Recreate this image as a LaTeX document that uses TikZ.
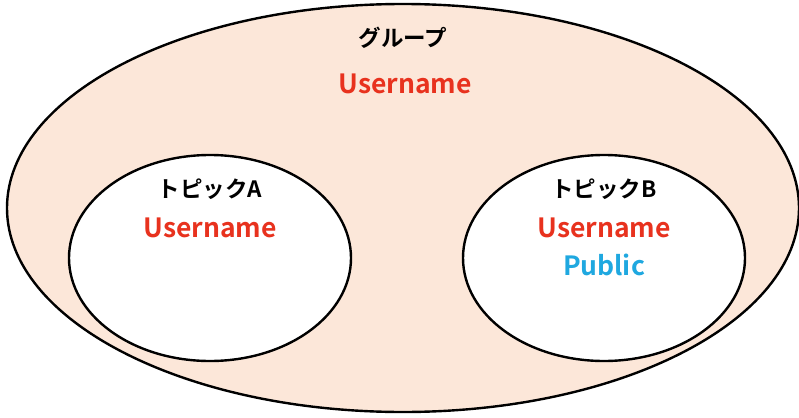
\documentclass[tikz,border=0pt]{standalone}
\usepackage{fontspec}
\setmainfont{Noto Sans CJK JP}[BoldFont={* Bold}]
\usetikzlibrary{shapes.geometric}
\definecolor{peach}{HTML}{FCE7D9}
\definecolor{uname}{HTML}{E8321E}
\definecolor{pub}{HTML}{1FA8E0}
\begin{document}
\begin{tikzpicture}[x=1pt,y=-1pt,
  ring/.style={draw=black,line width=2.4pt},
  title/.style={font=\fontsize{22.5}{26}\selectfont\bfseries,text=black,inner sep=0pt},
  uline/.style={font=\fontsize{26.5}{30}\selectfont\bfseries,text=uname,inner sep=0pt},
  pline/.style={font=\fontsize{26.5}{30}\selectfont\bfseries,text=pub,inner sep=0pt}]
\useasboundingbox (0,0) rectangle (799,417);
\fill[white] (0,0) rectangle (799,417);
\draw[ring,fill=peach] (403,208) ellipse [x radius=396, y radius=204];
\draw[ring,fill=white] (210,258) ellipse [x radius=141, y radius=103];
\draw[ring,fill=white] (604,258) ellipse [x radius=141, y radius=103];
\node[title] (g) at (403,38) {グループ};
\node[uline] (gu) at (405,84) {Username};
\node[title] (ta) at (210,189) {トピックA};
\node[uline] (tau) at (210,228) {Username};
\node[title] (tb) at (604,189) {トピックB};
\node[uline] (tbu) at (604,228) {Username};
\node[pline] (tbp) at (604,265) {Public};
\end{tikzpicture}
\end{document}
